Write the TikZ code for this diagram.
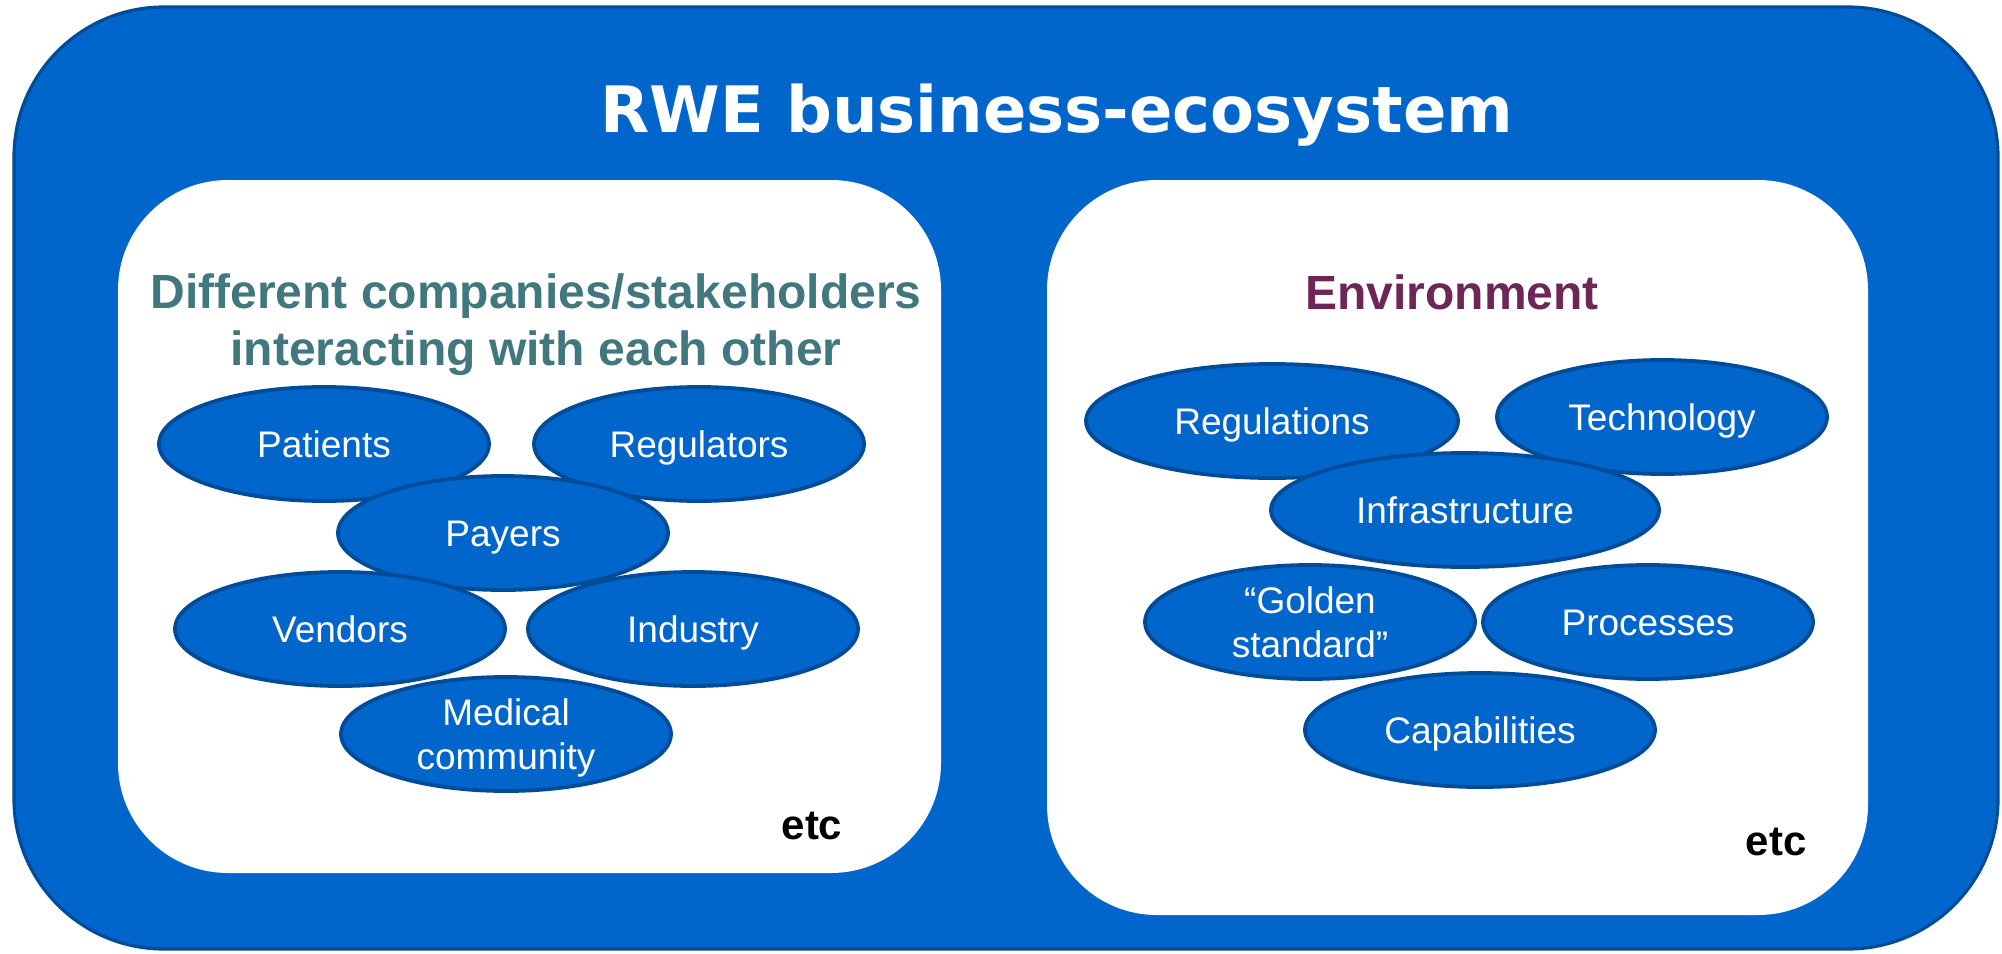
\documentclass[tikz,border=0pt]{standalone}
\usepackage{fontspec}
\setmainfont{Liberation Sans}
\newfontfamily\titlefont{DejaVu Sans}
\usetikzlibrary{shapes.geometric}
\definecolor{ecoblue}{HTML}{0066CC}
\definecolor{ecoedge}{HTML}{004C99}
\definecolor{tealtxt}{HTML}{41777F}
\definecolor{plumtxt}{HTML}{6E2558}
\begin{document}
\begin{tikzpicture}[x=0.5pt,y=-0.5pt,
  outerbox/.style={rectangle, draw=ecoedge, fill=ecoblue, line width=1.6pt, rounded corners=75pt, inner sep=0pt},
  panel/.style={rectangle, fill=white, rounded corners=55pt, inner sep=0pt},
  bubble/.style={ellipse, draw=ecoedge, fill=ecoblue, line width=1.9pt, inner sep=0pt,
    minimum width=165pt, minimum height=57pt, text=white, align=center,
    font=\fontsize{18.5}{22}\selectfont},
  oneline/.style={text height=13.3pt, text depth=0pt},
  headtxt/.style={align=center, inner sep=0pt, font=\bfseries\fontsize{24}{28.5}\selectfont},
  etctxt/.style={inner sep=0pt, font=\bfseries\fontsize{21}{25}\selectfont}
]
\useasboundingbox (0,0) rectangle (2002,953);
% outer ecosystem box
\node[outerbox, minimum width=992pt, minimum height=471pt] (eco) at (1006,478) {};
\node[text=white, inner sep=0pt, font=\titlefont\bfseries\fontsize{32}{38}\selectfont] (title) at (1057,115) {RWE business-ecosystem};
% panels
\node[panel, minimum width=411.5pt, minimum height=346.5pt] (left) at (529.5,526.5) {};
\node[panel, minimum width=410.5pt, minimum height=367.5pt] (right) at (1457.5,547.5) {};
% headings
\node[headtxt, text=tealtxt] (lhead) at (536,325) {Different companies/stakeholders\\interacting with each other};
\node[headtxt, text=plumtxt] (rhead) at (1452,292) {Environment};
% left bubbles
\node[bubble, oneline] (patients) at (324,444) {Patients};
\node[bubble, oneline] (regulators) at (699,444) {Regulators};
\node[bubble, oneline] (payers) at (503,533) {Payers};
\node[bubble, oneline] (vendors) at (340,629) {Vendors};
\node[bubble, oneline] (industry) at (693,629) {Industry};
\node[bubble, text depth=0pt] (medical) at (506,734) {Medical\\community};
% right bubbles
\node[bubble, oneline, minimum width=186pt] (regulations) at (1272,421) {Regulations};
\node[bubble, oneline] (technology) at (1662,417) {Technology};
\node[bubble, oneline, minimum width=194pt] (infra) at (1465,510) {Infrastructure};
\node[bubble] (golden) at (1310,622) {“Golden\\standard”};
\node[bubble, oneline] (processes) at (1648,622) {Processes};
\node[bubble, oneline, minimum width=175pt] (capab) at (1480,730) {Capabilities};
% etc labels
\node[etctxt] (letc) at (812,826) {etc};
\node[etctxt] (retc) at (1776,842) {etc};
\end{tikzpicture}
\end{document}
